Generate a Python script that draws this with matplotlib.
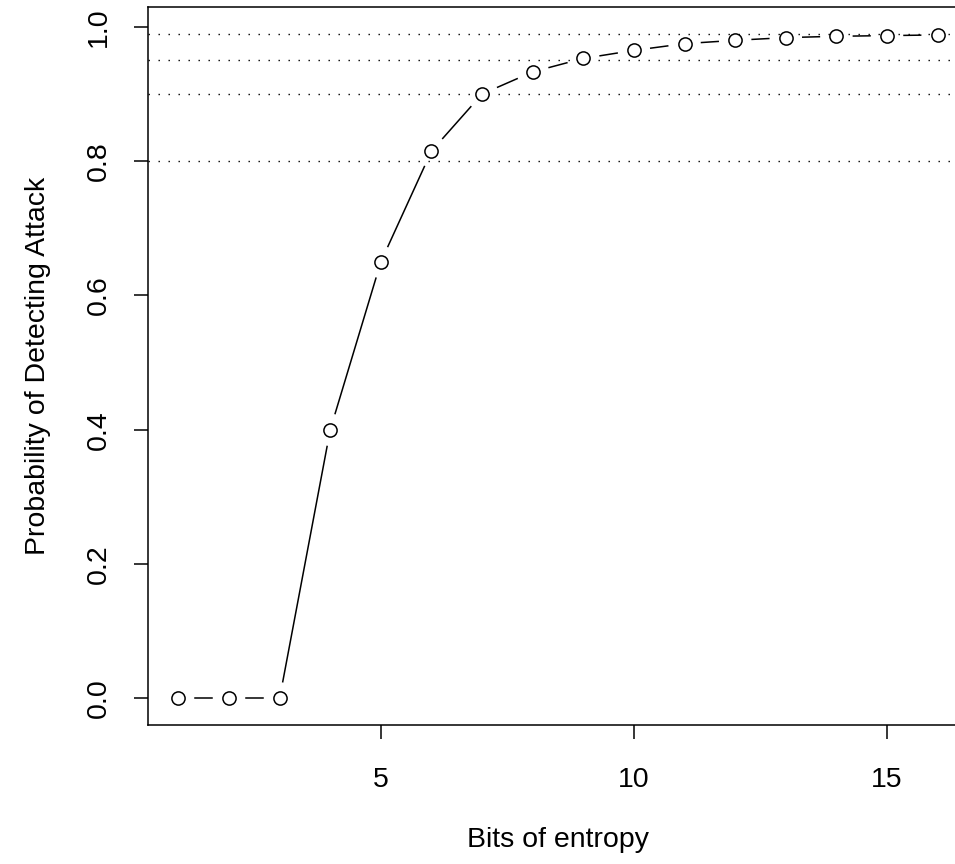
import numpy as np
import matplotlib
matplotlib.use("Agg")
import matplotlib.pyplot as plt

# values
bits = [1, 2, 3, 4, 5, 6, 7, 8, 9, 10, 11, 12, 13, 14, 15, 16]
prob = [0.0, 0.0, 0.0, 0.40, 0.65, 0.815, 0.90, 0.933, 0.953, 0.965,
        0.975, 0.980, 0.984, 0.986, 0.987, 0.988]
ref_levels = [0.8, 0.9, 0.95, 0.99]
xticks = [5, 10, 15]
yticks = [0.0, 0.2, 0.4, 0.6, 0.8, 1.0]

plt.rcParams['font.family'] = ['Liberation Sans', 'DejaVu Sans']

W, H = 955, 864
fig = plt.figure(figsize=(W / 100, H / 100), dpi=100)
ax = fig.add_axes([148 / W, (H - 725) / H, 820 / W, 718 / H])

lw = 1.1
fs = 20.5
ax.margins(0.04)
ax.plot(bits, prob, linestyle='none', marker='o', markersize=9.5,
        markerfacecolor='white', markeredgecolor='black', markeredgewidth=lw,
        zorder=3)

# reference lines (abline h=..., lty=3)
for lev in ref_levels:
    ax.axhline(lev, color='black', lw=1.0, linestyle=(0, (1.0, 6.2)), zorder=1)

# type="b" style: segments between points with a gap around each point
fig.canvas.draw()
pts = ax.transData.transform(np.column_stack([bits, prob]))
gap = 17.0
inv = ax.transData.inverted()
for i in range(len(pts) - 1):
    p0, p1 = pts[i], pts[i + 1]
    d = p1 - p0
    L = np.hypot(*d)
    if L <= 2 * gap:
        continue
    u = d / L
    a = inv.transform(p0 + u * gap)
    b = inv.transform(p1 - u * gap)
    ax.plot([a[0], b[0]], [a[1], b[1]], color='black', lw=lw, zorder=2)

ax.set_xticks(xticks)
ax.set_yticks(yticks)
ax.set_xticklabels([str(t) for t in xticks])
ax.set_yticklabels([f"{t:.1f}" for t in yticks], rotation=90, va='center')
ax.tick_params(direction='out', length=10, width=lw, labelsize=fs, pad=16)
ax.tick_params(axis='x', pad=20)
for s in ax.spines.values():
    s.set_linewidth(lw)

ax.set_xlabel('Bits of entropy', fontsize=fs)
ax.set_ylabel('Probability of Detecting Attack', fontsize=fs)
ax.xaxis.set_label_coords(0.5, -0.142)
ax.yaxis.set_label_coords(-0.118, 0.5)

fig.savefig('out.png', dpi=100)
